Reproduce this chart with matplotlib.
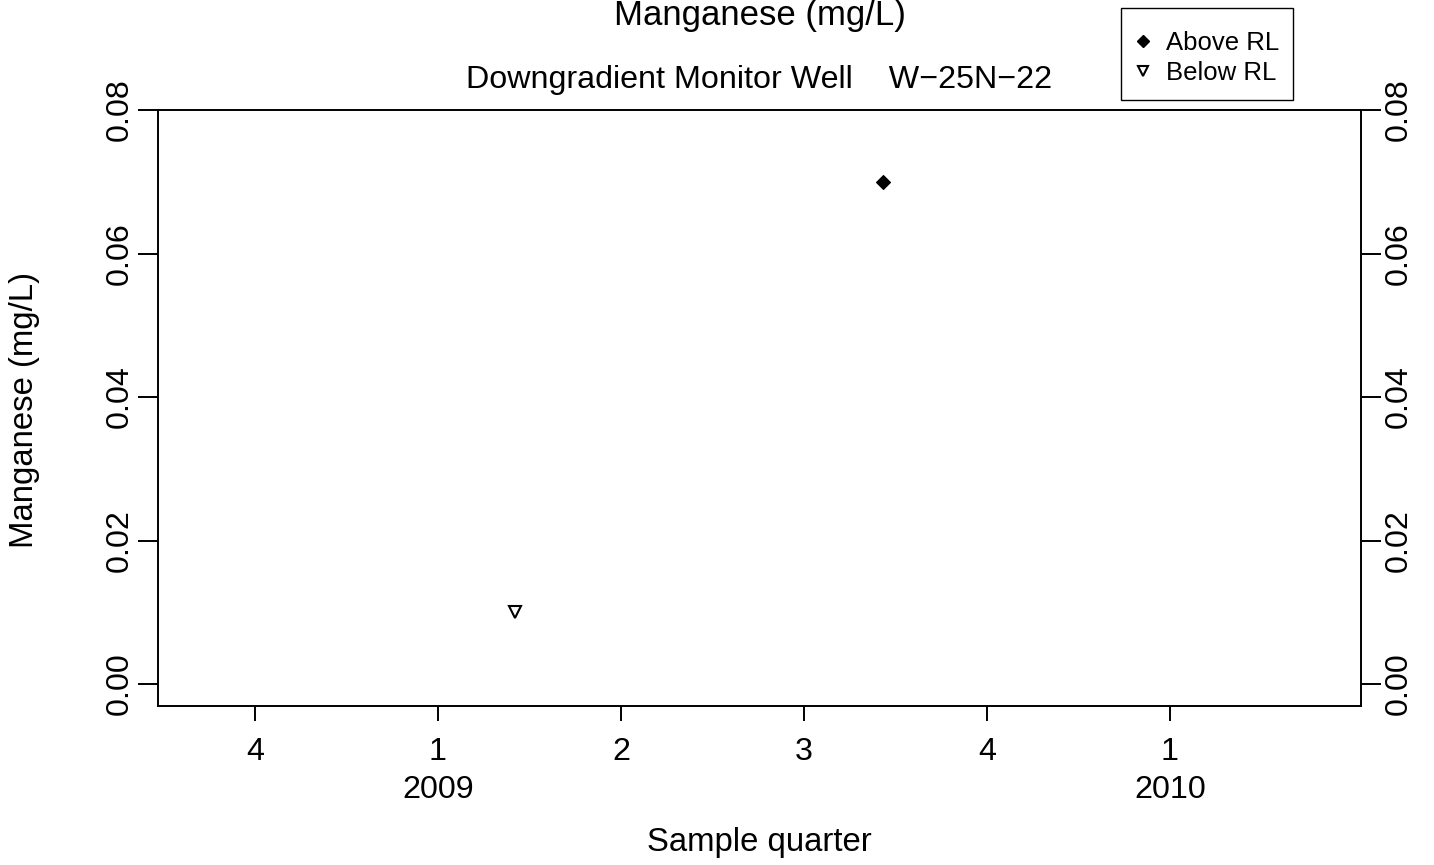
import matplotlib
matplotlib.use("Agg")
import matplotlib.pyplot as plt
from matplotlib.lines import Line2D
from matplotlib.patches import Rectangle
from matplotlib.transforms import blended_transform_factory

plt.rcParams['font.family'] = ['Liberation Sans', 'DejaVu Sans']

# Quarter index: 0 = first quarter of 2009
quarter_pos = [-1, 0, 1, 2, 3, 4]
quarter_labels = ["4", "1", "2", "3", "4", "1"]
year_pos = [0, 4]
year_labels = ["2009", "2010"]

above_x = [2.43]
above_y = [0.07]
below_x = [0.42]
below_y = [0.01]

y_ticks = [0.00, 0.02, 0.04, 0.06, 0.08]
y_tick_labels = ["0.00", "0.02", "0.04", "0.06", "0.08"]

FS = 23.2
W, H = 1434, 865
fig = plt.figure(figsize=(W / 100, H / 100), dpi=100)
ax = fig.add_axes([158 / W, (H - 706) / H, (1361 - 158) / W, (706 - 110) / H])

ax.plot(above_x, above_y, linestyle='none', marker='D', markersize=7.5,
        color='black', markeredgewidth=0.8)
ax.plot(below_x, below_y, linestyle='none', marker='v', markersize=8,
        markerfacecolor='white', markeredgecolor='black', markeredgewidth=1.5)

ax.set_xlim(-1.53, 5.044)
ax.set_ylim(-0.003066, 0.08)

for s in ax.spines.values():
    s.set_linewidth(1.4)

ax.set_xticks(quarter_pos)
ax.set_xticklabels(quarter_labels, fontsize=FS)
ax.tick_params(axis='x', direction='out', length=11, width=1.4, pad=11)

ax.set_yticks(y_ticks)
ax.set_yticklabels(y_tick_labels, fontsize=FS, rotation=90, va='center')
ax.tick_params(axis='y', direction='out', length=14.5, width=1.4, pad=2,
               left=True, right=True, labelleft=True, labelright=True)
for t in ax.yaxis.get_major_ticks():
    t.label1.set_va('center')
    t.label2.set_rotation(90)
    t.label2.set_va('center')

trans = blended_transform_factory(ax.transData, fig.transFigure)
for xp, yl in zip(year_pos, year_labels):
    ax.text(xp, 1 - 790 / H, yl, transform=trans, ha='center', va='center',
            fontsize=FS)

fig.text(759.5 / W, 1 - 843 / H, "Sample quarter", ha='center', va='center',
         fontsize=FS + 0.5)
fig.text(25 / W, 1 - 410 / H, "Manganese (mg/L)", ha='center', va='center',
         rotation=90, fontsize=FS + 0.5)
fig.text(759.5 / W, 1 - 15 / H, "Manganese (mg/L)", ha='center', va='center',
         fontsize=25)
fig.text(759.5 / W, 1 - 80 / H, "Downgradient Monitor Well    W\u221225N\u221222",
         ha='center', va='center', fontsize=FS)

# Legend box outside the plot area, top right
fig.add_artist(Rectangle((1121 / W, 1 - 100 / H), (1293 - 1121) / W, 92 / H,
                         transform=fig.transFigure, facecolor='white',
                         edgecolor='black', linewidth=1.0))
handles = [
    Line2D([], [], linestyle='none', marker='D', markersize=6.5, color='black'),
    Line2D([], [], linestyle='none', marker='v', markersize=7,
           markerfacecolor='white', markeredgecolor='black', markeredgewidth=1.5),
]
leg = fig.legend(handles, ["Above RL", "Below RL"], loc='center left',
                 bbox_to_anchor=(1133 / W, 1 - 58 / H), fontsize=18.5,
                 frameon=False, handlelength=0.8, handletextpad=0.5,
                 borderpad=0, labelspacing=0.25, borderaxespad=0)

fig.savefig("out.png", dpi=100)
